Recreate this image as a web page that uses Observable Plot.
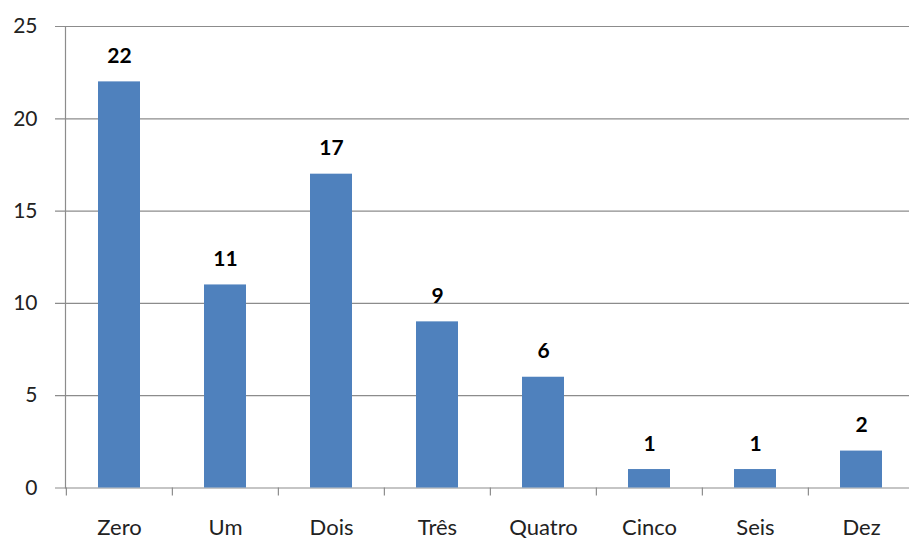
<!DOCTYPE html>
<html>
<head>
<meta charset="utf-8">
<script src="https://cdn.jsdelivr.net/npm/d3@7"></script>
<script src="https://cdn.jsdelivr.net/npm/@observablehq/plot@0.6"></script>
<style>
  html, body { margin: 0; padding: 0; background: #fff; }
  #chart { width: 909px; height: 540px; overflow: hidden; }
</style>
</head>
<body>
<div id="chart"></div>
<script>
// Number of occurrences per category
const categories = ["Zero", "Um", "Dois", "Três", "Quatro", "Cinco", "Seis", "Dez"];
const counts = [22, 11, 17, 9, 6, 1, 1, 2];
const yTicks = [0, 5, 10, 15, 20, 25];

const data = categories.map((c, i) => ({category: c, count: counts[i]}));

const width = 909;
const height = 540;
const marginLeft = 65;
const marginRight = -6;
const gridColor = "#8c8c8c";
const font = "Lato, 'Open Sans', sans-serif";

// Band step, used to put the category tick marks on band boundaries
const step = (width - marginLeft - marginRight) / categories.length;

const chart = Plot.plot({
  width,
  height,
  marginLeft,
  marginRight,
  marginTop: 26,
  marginBottom: 52.5,
  style: {fontFamily: font, fontSize: "21px", color: "#000", background: "#fff", maxWidth: "none"},
  x: {domain: categories, paddingInner: 0.6, paddingOuter: 0.3, label: null},
  y: {domain: [0, 25], ticks: yTicks, label: null},
  marks: [
    // horizontal gridlines with their left tick stubs
    Plot.ruleY(yTicks, {stroke: gridColor, strokeWidth: 1.2, insetLeft: -10}),
    // left axis line
    Plot.frame({anchor: "left", stroke: gridColor, strokeWidth: 1.2}),
    // category boundary ticks under the baseline
    Plot.ruleX(categories, {x: d => d, y1: 0, y2: 0, insetBottom: -8, dx: -step / 2, stroke: gridColor, strokeWidth: 1.2}),
    Plot.barY(data, {x: "category", y: "count", fill: "#4f81bd"}),
    Plot.text(data, {
      x: "category", y: "count", text: d => String(d.count),
      lineAnchor: "bottom", dy: -19, fontWeight: "bold", fontSize: 21, fill: "#000"
    }),
    Plot.axisY({ticks: yTicks, tickSize: 0, tickPadding: 28, fontSize: 21, fill: "#222", label: null}),
    Plot.axisX({tickSize: 0, tickPadding: 31, lineAnchor: "top", fontSize: 22, fill: "#222", label: null,
      style: {letterSpacing: "0.4px"}})
  ]
});

document.getElementById("chart").appendChild(chart);
</script>
</body>
</html>
